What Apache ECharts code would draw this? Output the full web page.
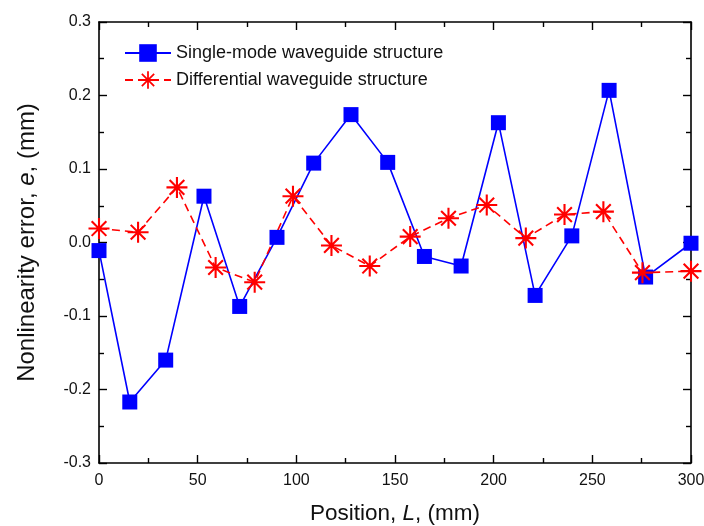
<!DOCTYPE html>
<html>
<head>
<meta charset="utf-8">
<script src="https://cdn.jsdelivr.net/npm/echarts@6/dist/echarts.min.js"></script>
<style>html,body{margin:0;padding:0;background:#fff}#c{width:704px;height:526px}</style>
</head>
<body>
<div id="c"></div>
<script>
const singleName = 'Single-mode waveguide structure';
const diffName = 'Differential waveguide structure';
const singleX = [0, 15.6, 33.8, 53.2, 71.3, 90.2, 108.8, 127.7, 146.3, 164.9, 183.5, 202.4, 221, 239.6, 258.5, 277, 300];
const singleY = [-0.011, -0.217, -0.160, 0.063, -0.087, 0.007, 0.108, 0.174, 0.109, -0.019, -0.032, 0.163, -0.072, 0.009, 0.207, -0.047, -0.001];
const diffX = [0, 19.8, 39.5, 59.1, 78.9, 98.3, 117.8, 137.2, 157.7, 177.1, 196.5, 216.3, 235.9, 255.6, 275.4, 300];
const diffY = [0.019, 0.014, 0.075, -0.034, -0.054, 0.063, -0.004, -0.032, 0.008, 0.033, 0.051, 0.006, 0.038, 0.042, -0.041, -0.039];

const asterisk = 'path://M-10,-1L10,-1L10,1L-10,1Z M-1,-10L1,-10L1,10L-1,10Z M-7.7,-6.3L-6.3,-7.7L7.7,6.3L6.3,7.7Z M-7.7,6.3L6.3,-7.7L7.7,-6.3L-6.3,7.7Z';
const font = 'Liberation Sans, Arial, sans-serif';
const txt = '#111';

const chart = echarts.init(document.getElementById('c'), null, {renderer: 'canvas'});
const axisCommon = {
  type: 'value',
  axisLine: {show: true, onZero: false, lineStyle: {color: '#000', width: 1.6}},
  axisTick: {show: true, inside: true, length: 8, lineStyle: {color: '#000', width: 1.4}},
  minorTick: {show: true, splitNumber: 2, length: 5, lineStyle: {color: '#000', width: 1.4}},
  splitLine: {show: false}
};
chart.setOption({
  backgroundColor: '#fff',
  animation: false,
  grid: {left: 99, right: 13, top: 22, bottom: 63, containLabel: false, outerBoundsMode: 'none'},
  legend: {
    orient: 'vertical', left: 119, top: 39,
    itemWidth: 46, itemHeight: 22, itemGap: 9,
    textStyle: {fontFamily: font, fontSize: 18, color: txt, lineHeight: 18},
    data: [singleName, diffName]
  },
  xAxis: [
    Object.assign({}, axisCommon, {
      min: 0, max: 300, interval: 50, position: 'bottom',
      axisLabel: {fontFamily: font, fontSize: 16, color: txt, margin: 10},
      name: 'Position, {i|L}, (mm)', nameLocation: 'middle', nameGap: 39,
      nameTextStyle: {fontFamily: font, fontSize: 22.5, color: txt, rich: {i: {fontFamily: font, fontSize: 22.5, fontStyle: 'italic', color: txt}}}
    }),
    Object.assign({}, axisCommon, {min: 0, max: 300, interval: 50, position: 'top', axisLabel: {show: false}})
  ],
  yAxis: [
    Object.assign({}, axisCommon, {
      min: -0.3, max: 0.3, interval: 0.1, position: 'left',
      axisLabel: {fontFamily: font, fontSize: 16, color: txt, margin: 8, formatter: v => v.toFixed(1)},
      name: 'Nonlinearity error, {i|e}, (mm)', nameLocation: 'middle', nameGap: 60,
      nameTextStyle: {fontFamily: font, fontSize: 24, color: txt, rich: {i: {fontFamily: font, fontSize: 24, fontStyle: 'italic', color: txt}}}
    }),
    Object.assign({}, axisCommon, {min: -0.3, max: 0.3, interval: 0.1, position: 'right', axisLabel: {show: false}})
  ],
  series: [
    {
      name: singleName, type: 'line', clip: false,
      data: singleX.map((x, i) => [x, singleY[i]]),
      symbol: 'rect', symbolSize: 15,
      itemStyle: {color: '#0000ff'},
      lineStyle: {color: '#0000ff', width: 1.6}
    },
    {
      name: diffName, type: 'line', clip: false,
      data: diffX.map((x, i) => [x, diffY[i]]),
      symbol: asterisk, symbolSize: 21,
      itemStyle: {color: '#ff0000'},
      lineStyle: {color: '#ff0000', width: 1.6, type: [8, 5]}
    }
  ]
});
</script>
</body>
</html>
